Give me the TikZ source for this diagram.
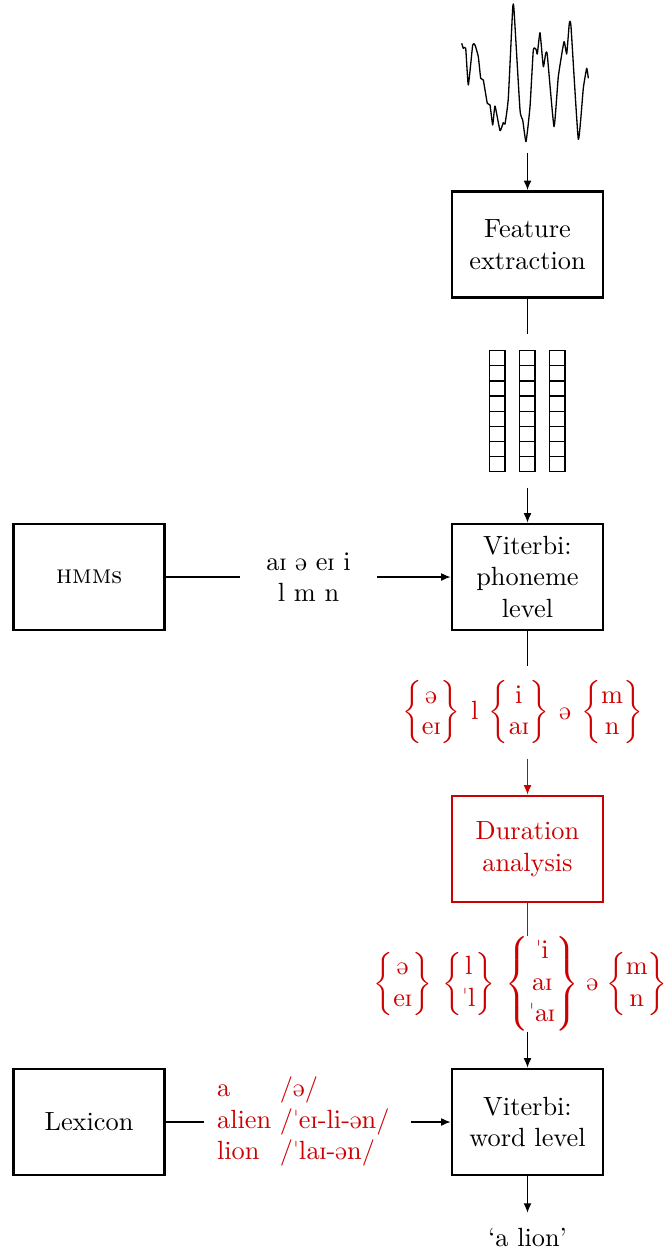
\documentclass[tikz,border=0pt]{standalone}
\usepackage{amsmath}
\usepackage{tipa}
\usetikzlibrary{arrows.meta}
\definecolor{annred}{RGB}{204,0,0}
\begin{document}
\begin{tikzpicture}[x=0.38pt,y=-0.38pt,
  blockbox/.style={draw, line width=1.1pt, minimum width=57.4pt, minimum height=40.3pt,
    align=center, inner sep=0pt},
  redbox/.style={blockbox, draw=annred, text=annred},
  lattice/.style={text=annred, inner sep=0pt},
  link/.style={line width=0.4pt},
  arrowlink/.style={link, -{Latex[length=3.6pt,width=3pt]}},
  cell/.style={line width=0.5pt}
]
\useasboundingbox (0,0) rectangle (668,1250);

% speech waveform
\draw[line width=0.5pt, line join=round] plot[smooth, tension=0.25] coordinates {
  (461.7,43.3) (463.3,48.3) (465.7,48.3) (468.3,85) (472.7,45) (475,45)
  (478.3,56.7) (480.7,78.3) (483.3,80) (487.3,103.3) (490,105) (492.7,125)
  (495,106) (500,130.7) (503.3,122.7) (505,124) (508.3,98.3) (512.7,8)
  (514,10) (520,110) (522.7,120) (526,141.7) (530,106.7) (533.3,50)
  (536,49.3) (537.3,54) (540,32.7) (543.3,66.7) (545.7,53.3) (547.3,55)
  (554,126.7) (558.3,76.7) (564,41.7) (566.7,54) (569.3,23.3) (571,26.7)
  (578.3,139.3) (583.3,88.3) (586.7,68.3) (588.3,78.3)};
\coordinate (wave) at (527.5,153);

% processing blocks
\node[blockbox] (feat) at (527.5,244.5) {Feature\\extraction};
\node[blockbox] (vit1) at (527.5,577) {Viterbi:\\phoneme\\level};
\node[blockbox] (hmm) at (89,577) {\textsc{hmm}s};
\node[redbox] (dur) at (527.5,849) {Duration\\analysis};
\node[blockbox] (vit2) at (527.5,1122) {Viterbi:\\word level};
\node[blockbox] (lex) at (89,1122) {Lexicon};

% feature vectors
\node[minimum width=30pt, minimum height=57.8pt, inner sep=0pt] (vec) at (527.5,411) {};
\foreach \i in {0,1,2}
  \foreach \j in {0,...,7}
    \draw[cell] (489.3+30*\i,350.7+15.125*\j) rectangle ++(15.7,15.125);

% phoneme inventory
\node[minimum width=52pt, inner sep=0pt, align=center] (phon) at (308.5,577)
  {\textipa{aI @ eI i}\\\textipa{l m n}};

% phoneme lattice after phoneme-level decoding
\node[lattice, minimum height=34.6pt] (ann1) at (522.5,712.5)
  {$\left\{\begin{matrix}\text{\textipa{@}}\\\text{\textipa{eI}}\end{matrix}\right\}$\hspace{4pt}%
   \textipa{l}\hspace{4pt}%
   $\left\{\begin{matrix}\text{\textipa{i}}\\\text{\textipa{aI}}\end{matrix}\right\}$\hspace{4pt}%
   \textipa{@}\hspace{4pt}%
   $\left\{\begin{matrix}\text{m}\\\text{n}\end{matrix}\right\}$};

% lattice after duration analysis
\node[lattice, minimum height=35pt] (ann2) at (520.5,984)
  {$\left\{\begin{matrix}\text{\textipa{@}}\\\text{\textipa{eI}}\end{matrix}\right\}$\hspace{4pt}%
   $\left\{\begin{matrix}\text{\textipa{l}}\\\text{\textipa{"l}}\end{matrix}\right\}$\hspace{4pt}%
   $\left\{\begin{matrix}\text{\textipa{"i}}\\\text{\textipa{aI}}\\\text{\textipa{"aI}}\end{matrix}\right\}$\hspace{3pt}%
   \textipa{@}\hspace{3pt}%
   $\left\{\begin{matrix}\text{m}\\\text{n}\end{matrix}\right\}$};

% lexicon entries
\node[text=annred, inner sep=0pt, minimum height=30pt] (lexent) at (307.5,1122)
  {\makebox[77.9pt][l]{\hspace{4.6pt}\begin{tabular}{@{}l@{\ }l@{}}
     a & /\textipa{@}/\\
     alien & /\textipa{"eI-li-@n}/\\
     lion & /\textipa{"laI-@n}/
   \end{tabular}}};

% recognised output
\node[inner xsep=3pt, inner ysep=5.5pt] (out) at (527.5,1237) {`a lion'};

% connectors
\draw[arrowlink] (wave) -- (feat);
\draw[link] (feat) -- (vec);
\draw[arrowlink] (vec) -- (vit1);
\draw[link] (hmm) -- (phon);
\draw[arrowlink] (phon) -- (vit1);
\draw[link] (vit1.south) -- (vit1.south |- ann1.north);
\draw[arrowlink, color=annred] (vit1.south |- ann1.south) -- (dur.north);
\draw[link, color=annred] (dur.south) -- (dur.south |- ann2.north);
\draw[arrowlink] (dur.south |- ann2.south) -- (vit2.north);
\draw[link] (lex) -- (lexent);
\draw[arrowlink] (lexent) -- (vit2);
\draw[arrowlink] (vit2) -- (out);
\end{tikzpicture}
\end{document}
